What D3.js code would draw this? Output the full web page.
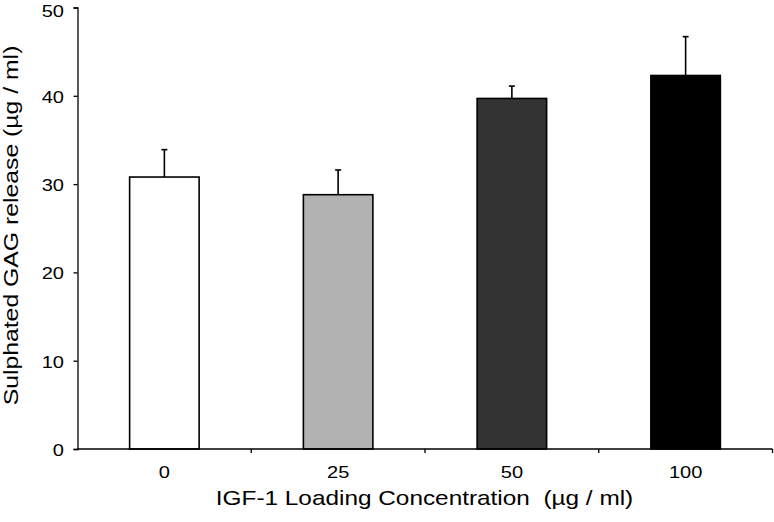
<!DOCTYPE html>
<html><head><meta charset="utf-8">
<script src="https://cdn.jsdelivr.net/npm/d3@7"></script>
<style>body{margin:0;background:#fff}svg{display:block}text{font-family:"Liberation Sans",Arial,sans-serif;fill:#000}</style>
</head><body>
<svg id="c" width="774" height="522"></svg>
<script>
const categories = ["0","25","50","100"];
const values = [30.8, 28.8, 39.7, 42.3];
const errors = [3.1, 2.8, 1.4, 4.4];
const fills = ["#ffffff","#b2b2b2","#333333","#000000"];
const yTicks = [0,10,20,30,40,50];
const xTitle = "IGF-1 Loading Concentration  (\u00b5g / ml)";
const yTitle = "Sulphated GAG release (\u00b5g / ml)";

const SX = 1.18; // horizontal stretch of the lettering
const svg = d3.select("#c");
const mLeft = 77.5, mRight = 772.5, mTop = 7.5, mBottom = 449;
const x = d3.scaleBand().domain(categories).range([mLeft, mRight]).paddingInner(0.6).paddingOuter(0.3);
const y = d3.scaleLinear().domain([0,50]).range([mBottom, mTop]);

// bars
svg.selectAll("rect.bar").data(categories).enter().append("rect")
  .attr("x", d => x(d)).attr("width", x.bandwidth())
  .attr("y", (d,i) => y(values[i])).attr("height", (d,i) => y(0) - y(values[i]))
  .attr("fill", (d,i) => fills[i]).attr("stroke", "#000").attr("stroke-width", 1.6);

// error bars
const eb = svg.selectAll("g.err").data(categories).enter().append("g");
eb.append("line")
  .attr("x1", d => x(d) + x.bandwidth()/2).attr("x2", d => x(d) + x.bandwidth()/2)
  .attr("y1", (d,i) => y(values[i])).attr("y2", (d,i) => y(values[i] + errors[i]))
  .attr("stroke", "#000").attr("stroke-width", 1.6);
eb.append("line")
  .attr("x1", d => x(d) + x.bandwidth()/2 - 3).attr("x2", d => x(d) + x.bandwidth()/2 + 3)
  .attr("y1", (d,i) => y(values[i] + errors[i])).attr("y2", (d,i) => y(values[i] + errors[i]))
  .attr("stroke", "#000").attr("stroke-width", 1.6);

// y axis
const ya = svg.append("g").attr("transform", `translate(${mLeft},0)`)
  .call(d3.axisLeft(y).tickValues(yTicks).tickSize(4).tickPadding(8).tickFormat(d3.format("d")));
ya.select(".domain").attr("stroke-width", 1.3);
ya.selectAll(".tick line").attr("stroke-width", 1.3);
ya.selectAll(".tick text").attr("font-size", 17).attr("font-family", null)
  .attr("x", -13.5 / SX).attr("dy", null).attr("y", d => Math.max(6.5, 16.5 - y(d)))
  .attr("transform", `scale(${SX},1)`);

// x axis: ticks at band boundaries
const xa = svg.append("g").attr("transform", `translate(0,${mBottom})`);
xa.append("line").attr("x1", mLeft).attr("x2", mRight).attr("y1", 0).attr("y2", 0).attr("stroke", "#000").attr("stroke-width", 1.3);
const step = x.step();
const boundaries = categories.map((d,i) => x(d) + x.bandwidth()/2 + step/2);
xa.selectAll("line.tk").data(boundaries).enter().append("line")
  .attr("x1", d => d).attr("x2", d => d).attr("y1", 0).attr("y2", 4)
  .attr("stroke", "#000").attr("stroke-width", 1.3);
xa.selectAll("text").data(categories).enter().append("text")
  .attr("transform", d => `translate(${x(d) + x.bandwidth()/2},29) scale(${SX},1)`)
  .attr("text-anchor", "middle").attr("font-size", 17).text(d => d);

// titles
svg.append("text").attr("transform", `translate(424.5,505) scale(1.16,1)`).attr("text-anchor", "middle")
  .attr("font-size", 21).attr("xml:space", "preserve").style("white-space", "pre").text(xTitle);
svg.append("text").attr("transform", `translate(18,225.5) rotate(-90) scale(${SX},1)`).attr("text-anchor", "middle")
  .attr("font-size", 21).text(yTitle);
</script>
</body></html>
